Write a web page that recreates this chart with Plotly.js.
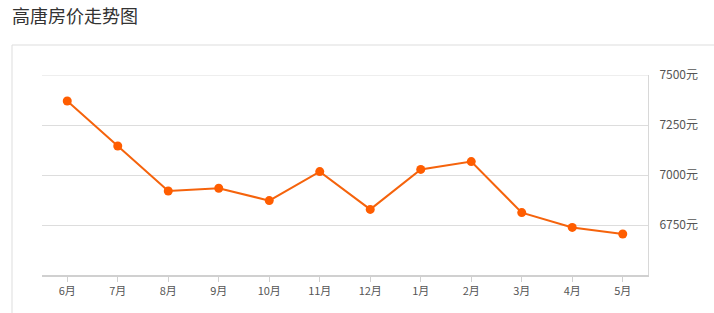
<!DOCTYPE html>
<html>
<head>
<meta charset="utf-8">
<script src="https://cdn.plot.ly/plotly-3.0.1.min.js"></script>
<style>
  html, body { margin: 0; padding: 0; background: #fff; }
  #chart { width: 714px; height: 313px; }
</style>
</head>
<body>
<div id="chart"></div>
<script>
const months = ['6月','7月','8月','9月','10月','11月','12月','1月','2月','3月','4月','5月'];
const prices = [7370, 7145, 6920, 6934, 6872, 7017, 6828, 7028, 7067, 6812, 6738, 6705];
const yTicks = [6750, 7000, 7250, 7500];
const yTickLabels = ['6750元','7000元','7250元','7500元'];
const chartTitle = '高唐房价走势图';

const font = '"Noto Sans CJK SC", "Noto Sans", sans-serif';

const trace = {
  x: months,
  y: prices,
  type: 'scatter',
  mode: 'lines+markers',
  line: { color: '#f5630c', width: 2 },
  marker: { color: '#ff5d00', size: 9 },
  hoverinfo: 'x+y'
};

const layout = {
  width: 714,
  height: 313,
  margin: { l: 42, r: 66, t: 75, b: 38 },
  paper_bgcolor: '#ffffff',
  plot_bgcolor: '#ffffff',
  showlegend: false,
  font: { family: font, color: '#555', size: 11 },
  title: {
    text: chartTitle,
    font: { family: font, size: 18, color: '#333' },
    xref: 'container', yref: 'container',
    x: 12 / 714, xanchor: 'left',
    y: 1 - 17 / 313, yanchor: 'middle'
  },
  xaxis: {
    type: 'category',
    range: [-0.5, 11.5],
    showgrid: false,
    showline: true,
    linecolor: '#d0d0d0',
    linewidth: 2,
    ticks: 'outside',
    ticklen: 5,
    tickcolor: '#d0d0d0',
    tickfont: { family: font, size: 11, color: '#555' },
    zeroline: false,
    fixedrange: true
  },
  yaxis: {
    side: 'right',
    range: [6500, 7500],
    tickvals: yTicks,
    ticktext: yTickLabels,
    showgrid: true,
    gridcolor: '#dddddd',
    gridwidth: 1,
    showline: true,
    linecolor: '#d8d8d8',
    linewidth: 1,
    ticks: '',
    ticklabelstandoff: 8,
    tickfont: { family: font, size: 12, color: '#555' },
    zeroline: false,
    fixedrange: true
  },
  shapes: [{
    type: 'rect',
    xref: 'paper', yref: 'paper',
    x0: (12 - 42) / 606, x1: 1.3,
    y0: -0.5, y1: (275 - 45) / 200,
    line: { color: '#dddddd', width: 1 },
    fillcolor: 'rgba(0,0,0,0)',
    layer: 'below'
  }, {
    type: 'line',
    xref: 'paper', yref: 'y',
    x0: 0, x1: 1,
    y0: yTicks[yTicks.length - 1], y1: yTicks[yTicks.length - 1],
    line: { color: '#dddddd', width: 1 },
    layer: 'below'
  }]
};

Plotly.newPlot('chart', [trace], layout, { displayModeBar: false, staticPlot: true });
</script>
</body>
</html>
